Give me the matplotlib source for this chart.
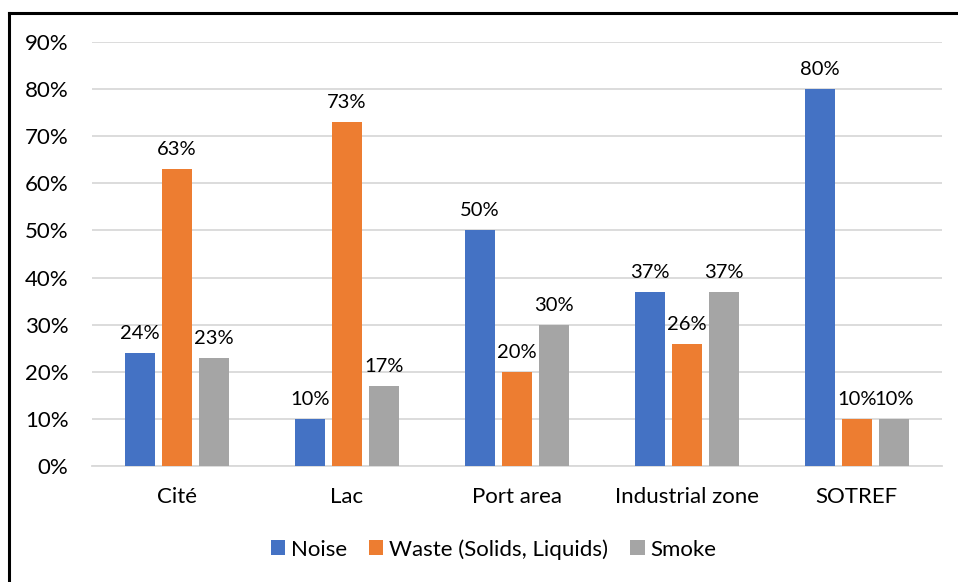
import numpy as np
import matplotlib
matplotlib.use("Agg")
import matplotlib.pyplot as plt
from matplotlib.lines import Line2D
from matplotlib.ticker import FuncFormatter

plt.rcParams['font.family'] = ['Lato', 'DejaVu Sans']

sites = ["Cité", "Lac", "Port area", "Industrial zone", "SOTREF"]
noise = [24, 10, 50, 37, 80]
waste = [63, 73, 20, 26, 10]
smoke = [23, 17, 30, 37, 10]
series_names = ["Noise", "Waste (Solids, Liquids)", "Smoke"]
colors = ["#4472C4", "#ED7D31", "#A5A5A5"]

fs = 16

fig = plt.figure(figsize=(9.58, 5.82), dpi=100)
ax = fig.add_axes([0.096, 0.199, 0.887, 0.729])

x = np.arange(len(sites))
w = 0.176
step = 0.218
for i, (vals, name, c) in enumerate(zip([noise, waste, smoke], series_names, colors)):
    bars = ax.bar(x + (i - 1) * step, vals, w, color=c, label=name, zorder=3)
    for b, v in zip(bars, vals):
        ax.annotate(f"{v}%", (b.get_x() + b.get_width() / 2, v),
                    xytext=(0, 8), textcoords="offset points",
                    ha="center", va="bottom", fontsize=14.5, color="#000000")

ax.set_xlim(-0.5, len(sites) - 0.5)
ax.set_ylim(0, 90)
ax.set_yticks(np.arange(0, 91, 10))
ax.yaxis.set_major_formatter(FuncFormatter(lambda v, p: f"{int(v)}%"))
ax.set_xticks(x)
ax.set_xticklabels(sites)
ax.tick_params(axis="both", length=0, labelsize=fs, colors="#000000")
ax.tick_params(axis="x", pad=15)
ax.tick_params(axis="y", pad=17)
ax.grid(axis="y", color="#D9D9D9", linewidth=1.3, zorder=0)
for s in ["top", "right", "left"]:
    ax.spines[s].set_visible(False)
ax.spines["bottom"].set_color("#D9D9D9")
ax.spines["bottom"].set_linewidth(1.3)

ax.legend(loc="center", bbox_to_anchor=(0.515, 0.056), bbox_transform=fig.transFigure,
          ncol=3, frameon=False, fontsize=fs, handlelength=0.65, handleheight=0.65,
          handletextpad=0.25, columnspacing=1.0)

# frame lines around the chart
fig.add_artist(Line2D([0.0099, 1.0], [0.978, 0.978], color="black", linewidth=2.2,
                      transform=fig.transFigure))
fig.add_artist(Line2D([0.0099, 0.0099], [0.0, 0.978], color="black", linewidth=2.2,
                      transform=fig.transFigure))

fig.savefig("out.png", dpi=100)
